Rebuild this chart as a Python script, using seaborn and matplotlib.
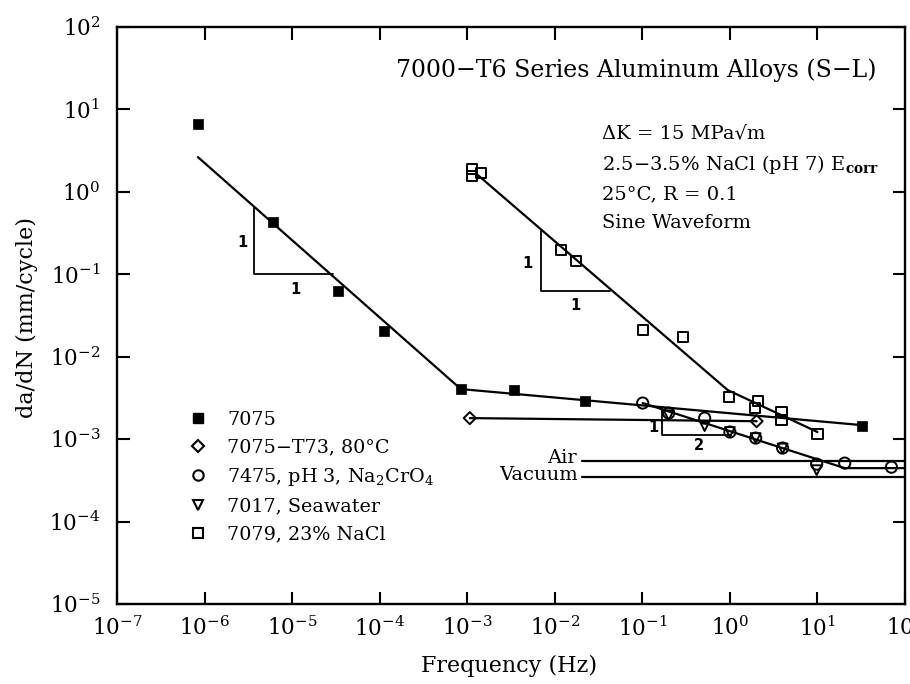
import numpy as np
import pandas as pd
import seaborn as sns
import matplotlib
matplotlib.use("Agg")
import matplotlib.pyplot as plt
from matplotlib.lines import Line2D

# ---------------- data ----------------
f_7075 = [8.4e-7, 6.0e-6, 3.3e-5, 1.12e-4, 8.45e-4, 3.4e-3, 0.022, 32]
r_7075 = [6.65, 0.43, 0.0625, 0.0205, 0.00405, 0.0039, 0.00289, 0.00144]

f_t73 = [1.07e-3, 2.02]
r_t73 = [0.0018, 0.00165]

f_7475 = [0.101, 0.2, 0.515, 1.0, 1.97, 4.0, 9.8, 20.5, 70]
r_7475 = [0.00274, 0.00207, 0.0018, 0.00122, 0.00103, 0.00078, 0.000498, 0.000512, 0.000457]

f_7017 = [0.2, 0.515, 1.0, 1.97, 4.0, 9.8]
r_7017 = [0.00195, 0.00144, 0.00122, 0.00103, 0.00077, 0.00042]

f_7079 = [1.13e-3, 1.13e-3, 1.43e-3, 0.0117, 0.0174, 0.101, 0.289, 0.97, 2.08, 1.92, 3.9, 3.9, 10]
r_7079 = [1.89, 1.56, 1.69, 0.197, 0.1445, 0.021, 0.0173, 0.00324, 0.00289, 0.00238, 0.00213, 0.0017, 0.00115]

# fitted trend lines
fit_7075_f = [8.4e-7, 8.45e-4, 32]
fit_7075_r = [2.64, 0.00405, 0.00148]
fit_t73_f = [1.07e-3, 2.02]
fit_t73_r = [0.0018, 0.00165]
fit_7475_f = [0.101, 20.5, 100]
fit_7475_r = [0.00274, 0.000445, 0.000445]
fit_7079_f = [1.32e-3, 0.944, 10]
fit_7079_r = [1.6, 0.00394, 0.00122]
air_f = [0.0203, 100]
air_r = [0.00054, 0.00054]
vac_f = [0.0203, 100]
vac_r = [0.000346, 0.000346]

# slope triangles
tri1_f = [3.66e-6, 3.66e-6, 2.92e-5]
tri1_r = [0.655, 0.1, 0.1]
tri2_f = [6.9e-3, 6.9e-3, 0.0425]
tri2_r = [0.334, 0.0625, 0.0625]
tri3_f = [0.166, 0.166, 1.02]
tri3_r = [0.00238, 0.00112, 0.00112]

legend_labels = ["7075", "7075\u2212T73, 80\u00b0C", "7475, pH 3, Na$_2$CrO$_4$",
                 "7017, Seawater", "7079, 23% NaCl"]
xtick_vals = [10.0 ** e for e in range(-7, 3)]
ytick_vals = [10.0 ** e for e in range(-5, 3)]

# ---------------- style ----------------
sns.set_theme(style="ticks")
plt.rcParams["font.family"] = ["DejaVu Serif"]
plt.rcParams["mathtext.fontset"] = "dejavuserif"
plt.rcParams["axes.linewidth"] = 1.7
for k in ["text.color", "axes.labelcolor", "xtick.color", "ytick.color", "axes.edgecolor"]:
    plt.rcParams[k] = "black"

fig = plt.figure(figsize=(9.1, 6.84), dpi=100)
ax = fig.add_axes([117 / 910, 1 - 604 / 684, 788 / 910, 577 / 684])
ax.set_xscale("log")
ax.set_yscale("log")
ax.set_xlim(1e-7, 1e2)
ax.set_ylim(1e-5, 1e2)

LW = 1.6
def line(fx, fy, lw=LW):
    sns.lineplot(x=fx, y=fy, sort=False, estimator=None, color="black",
                 linewidth=lw, ax=ax, legend=False, zorder=2)

for fx, fy in [(fit_7075_f, fit_7075_r), (fit_t73_f, fit_t73_r), (fit_7475_f, fit_7475_r),
               (fit_7079_f, fit_7079_r), (air_f, air_r), (vac_f, vac_r)]:
    line(fx, fy)
for fx, fy in [(tri1_f, tri1_r), (tri2_f, tri2_r), (tri3_f, tri3_r)]:
    line(fx, fy, lw=1.3)

open_kw = dict(color="black", facecolor="none", edgecolor="black", linewidth=1.4, zorder=3)
sns.scatterplot(x=f_7075, y=r_7075, marker="s", s=45, color="black", edgecolor="black",
                linewidth=0.5, ax=ax, zorder=3)
sns.scatterplot(x=f_t73, y=r_t73, marker="D", s=38, ax=ax, **open_kw)
sns.scatterplot(x=f_7475, y=r_7475, marker="o", s=65, ax=ax, **open_kw)
sns.scatterplot(x=f_7017, y=r_7017, marker="v", s=50, ax=ax, **open_kw)
sns.scatterplot(x=f_7079, y=r_7079, marker="s", s=55, ax=ax, **open_kw)

# ticks
ax.set_xticks(xtick_vals)
ax.set_yticks(ytick_vals)
ax.minorticks_off()
ax.tick_params(which="major", direction="in", length=9, width=1.5, top=True, right=True,
               labelsize=15.5, colors="black")
ax.tick_params(axis="x", pad=9)
ax.tick_params(axis="y", pad=12)

ax.set_xlabel("Frequency (Hz)", fontsize=16)
ax.set_ylabel("da/dN (mm/cycle)", fontsize=16)
ax.xaxis.set_label_coords((509 - 117) / 788, (604 - 655) / 577)
ax.yaxis.set_label_coords((38 - 117) / 788, (604 - 317) / 577)

def afx(px):
    return (px - 117) / 788
def afy(py):
    return (604 - py) / 577

ax.text(afx(876), afy(70), "7000\u2212T6 Series Aluminum Alloys (S\u2212L)", transform=ax.transAxes,
        ha="right", va="center", fontsize=17)
notes = ["\u0394K = 15 MPa\u221am", "2.5\u22123.5% NaCl (pH 7) E$_{\\mathbf{corr}}$",
         "25\u00b0C, R = 0.1", "Sine Waveform"]
for txt, py in zip(notes, [133, 164, 194, 223]):
    ax.text(afx(602), afy(py), txt, transform=ax.transAxes, ha="left", va="center", fontsize=14)

# slope labels
for txt, px, py in [("1", 242, 243), ("1", 295, 290), ("1", 527, 263), ("1", 575, 305),
                    ("1", 653, 428), ("2", 699, 445)]:
    ax.text(afx(px), afy(py), txt, transform=ax.transAxes, ha="center", va="center",
            fontsize=10.5, family="DejaVu Sans", fontweight="bold")

ax.text(afx(577), afy(458), "Air", transform=ax.transAxes, ha="right", va="center", fontsize=14)
ax.text(afx(578), afy(475), "Vacuum", transform=ax.transAxes, ha="right", va="center", fontsize=14)

# legend
handles = [
    Line2D([], [], ls="none", marker="s", ms=6.5, mfc="black", mec="black"),
    Line2D([], [], ls="none", marker="D", ms=6, mfc="none", mec="black", mew=1.5),
    Line2D([], [], ls="none", marker="o", ms=7.5, mfc="none", mec="black", mew=1.5),
    Line2D([], [], ls="none", marker="v", ms=7, mfc="none", mec="black", mew=1.5),
    Line2D([], [], ls="none", marker="s", ms=6.5, mfc="none", mec="black", mew=1.5),
]
ax.legend(handles, legend_labels, loc="upper left", bbox_to_anchor=(afx(189), afy(411)),
          frameon=False, fontsize=13.8, handlelength=0.9, handletextpad=1.1,
          labelspacing=0.5, borderpad=0, borderaxespad=0)

fig.savefig("out.png", dpi=100)
